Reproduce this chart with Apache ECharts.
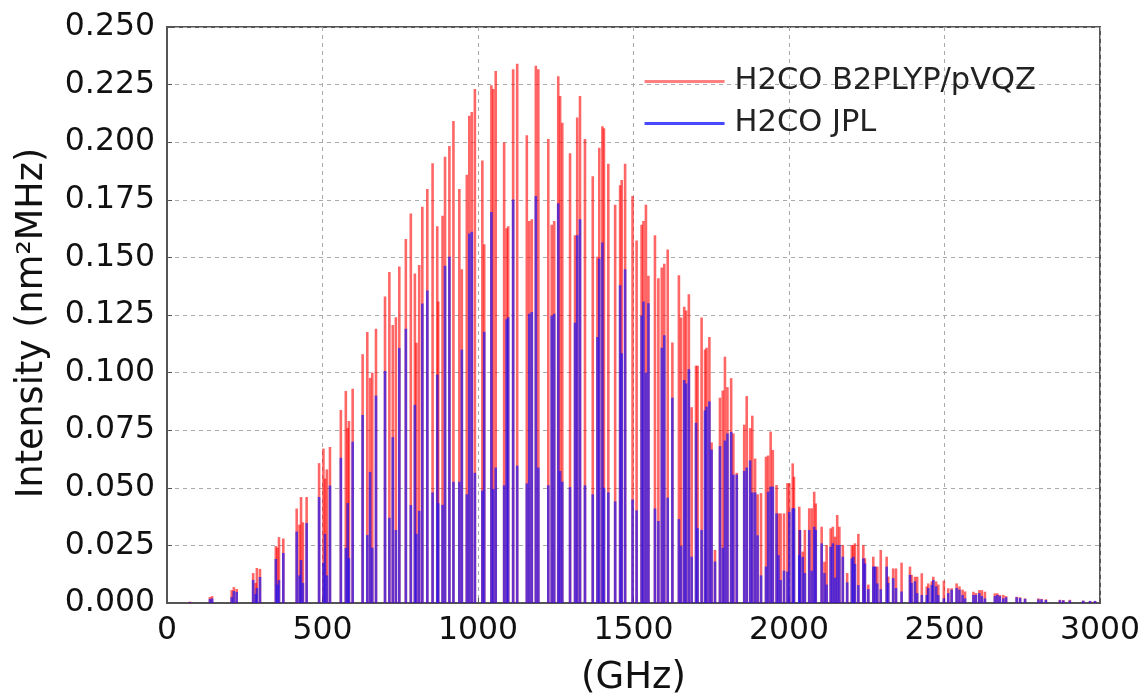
<!DOCTYPE html>
<html>
<head>
<meta charset="utf-8">
<title>H2CO spectrum</title>
<script src="https://cdn.jsdelivr.net/npm/echarts@6/dist/echarts.min.js"></script>
<style>
  html, body { margin: 0; padding: 0; background: #fff; }
  #main { width: 1144px; height: 697px; }
</style>
</head>
<body>
<div id="main"></div>
<script>
// line positions (GHz) and intensities (nm^2 MHz)
var freqs = [
  74, 138, 145, 208, 215, 224, 277, 285, 289, 299,
  350, 355, 360, 374, 417, 426, 431, 437, 449, 489,
  503, 508, 514, 524, 559, 575, 581, 585, 597, 629,
  644, 653, 660, 672, 701, 715, 726, 736, 747, 768,
  784, 797, 802, 811, 821, 837, 854, 869, 872, 886,
  894, 908, 921, 940, 948, 964, 972, 980, 990, 1014,
  1020, 1043, 1049, 1057, 1084, 1092, 1097, 1113, 1126, 1157,
  1165, 1173, 1186, 1194, 1226, 1237, 1245, 1258, 1264, 1271,
  1296, 1312, 1319, 1328, 1344, 1369, 1384, 1390, 1400, 1405,
  1419, 1441, 1457, 1462, 1473, 1497, 1510, 1526, 1532, 1540,
  1548, 1569, 1580, 1591, 1599, 1610, 1625, 1646, 1653, 1663,
  1669, 1678, 1687, 1701, 1706, 1719, 1730, 1735, 1744, 1751,
  1762, 1778, 1787, 1794, 1802, 1814, 1821, 1832, 1856, 1864,
  1875, 1882, 1891, 1899, 1910, 1926, 1933, 1941, 1948, 1960,
  1966, 1973, 1984, 1995, 2001, 2012, 2016, 2033, 2035, 2044,
  2051, 2065, 2073, 2081, 2086, 2105, 2114, 2121, 2134, 2141,
  2148, 2155, 2162, 2173, 2187, 2202, 2207, 2212, 2223, 2239,
  2244, 2255, 2271, 2277, 2284, 2295, 2314, 2319, 2335, 2344,
  2362, 2389, 2394, 2405, 2412, 2427, 2443, 2448, 2459, 2464,
  2473, 2480, 2498, 2512, 2523, 2539, 2548, 2558, 2566, 2593,
  2601, 2612, 2620, 2630, 2662, 2670, 2678, 2689, 2698, 2732,
  2743, 2759, 2802, 2812, 2826, 2871, 2882, 2903, 2946, 2968,
  2984
];
var b2plyp = [
  0.0006, 0.0026, 0.0030, 0.0056, 0.0069, 0.0061, 0.0130, 0.0087, 0.0152, 0.0148,
  0.0247, 0.0240, 0.0286, 0.0280, 0.0410, 0.0340, 0.0460, 0.0350, 0.0460, 0.0607,
  0.0670, 0.0540, 0.0580, 0.0677, 0.0838, 0.0920, 0.0760, 0.0790, 0.0930, 0.1080,
  0.1176, 0.0977, 0.1000, 0.1190, 0.1330, 0.1437, 0.1207, 0.1240, 0.1460, 0.1580,
  0.1690, 0.1430, 0.1130, 0.1467, 0.1720, 0.1797, 0.1909, 0.1635, 0.1309, 0.1681,
  0.1937, 0.1983, 0.2092, 0.1797, 0.1449, 0.1859, 0.2115, 0.2131, 0.2231, 0.1921,
  0.1557, 0.2247, 0.2231, 0.2309, 0.1999, 0.1627, 0.1635, 0.2317, 0.2340, 0.2030,
  0.1658, 0.1666, 0.2332, 0.2317, 0.2014, 0.1642, 0.1658, 0.2286, 0.2200, 0.2084,
  0.1952, 0.1596, 0.2107, 0.2200, 0.2014, 0.1852, 0.1503, 0.1976, 0.2069, 0.2061,
  0.1906, 0.1728, 0.1813, 0.1836, 0.1906, 0.1766, 0.1573, 0.1642, 0.1658, 0.1728,
  0.1420, 0.1596, 0.1410, 0.1456, 0.1472, 0.1534, 0.1131, 0.1422, 0.1239, 0.1286,
  0.1270, 0.1340, 0.0850, 0.1030, 0.1030, 0.1239, 0.1100, 0.1108, 0.1154, 0.0697,
  0.0230, 0.0891, 0.0922, 0.1069, 0.0937, 0.0976, 0.0736, 0.0565, 0.0774, 0.0898,
  0.0759, 0.0813, 0.0627, 0.0472, 0.0477, 0.0635, 0.0640, 0.0744, 0.0664, 0.0512,
  0.0389, 0.0389, 0.0389, 0.0520, 0.0520, 0.0606, 0.0548, 0.0418, 0.0317, 0.0223,
  0.0317, 0.0411, 0.0411, 0.0483, 0.0432, 0.0331, 0.0179, 0.0252, 0.0324, 0.0331,
  0.0288, 0.0382, 0.0331, 0.0252, 0.0130, 0.0252, 0.0252, 0.0259, 0.0300, 0.0252,
  0.0194, 0.0080, 0.0201, 0.0158, 0.0158, 0.0230, 0.0201, 0.0115, 0.0150, 0.0150,
  0.0175, 0.0158, 0.0122, 0.0114, 0.0114, 0.0129, 0.0072, 0.0085, 0.0094, 0.0114,
  0.0094, 0.0080, 0.0097, 0.0064, 0.0064, 0.0085, 0.0072, 0.0058, 0.0050, 0.0049,
  0.0043, 0.0056, 0.0056, 0.0049, 0.0042, 0.0042, 0.0035, 0.0035, 0.0030, 0.0027,
  0.0025, 0.0020, 0.0020, 0.0018, 0.0016, 0.0014, 0.0013, 0.0014, 0.0010, 0.0009,
  0.0009
];
var jpl = [
  0.0004, 0.0017, 0.0020, 0.0026, 0.0052, 0.0048, 0.0100, 0.0039, 0.0065, 0.0113,
  0.0191, 0.0080, 0.0100, 0.0217, 0.0310, 0.0120, 0.0187, 0.0087, 0.0347, 0.0460,
  0.0174, 0.0300, 0.0120, 0.0510, 0.0630, 0.0239, 0.0434, 0.0195, 0.0700, 0.0816,
  0.0295, 0.0569, 0.0240, 0.0900, 0.1007, 0.0370, 0.0720, 0.0317, 0.1107, 0.1190,
  0.0425, 0.0860, 0.0300, 0.0400, 0.1300, 0.1356, 0.0480, 0.0991, 0.0433, 0.0426,
  0.1464, 0.1503, 0.0526, 0.0526, 0.1100, 0.0472, 0.1604, 0.1611, 0.0565, 0.0488,
  0.1177, 0.1697, 0.0495, 0.0588, 0.0511, 0.1232, 0.1240, 0.1751, 0.0596, 0.0519,
  0.1255, 0.1263, 0.1766, 0.0588, 0.0511, 0.1247, 0.1255, 0.1735, 0.0573, 0.0526,
  0.0503, 0.1216, 0.1596, 0.1666, 0.0511, 0.0472, 0.1154, 0.1495, 0.1565, 0.0500,
  0.0480, 0.0441, 0.1379, 0.1084, 0.1449, 0.0449, 0.0402, 0.1247, 0.1309, 0.1000,
  0.1301, 0.0410, 0.0356, 0.1108, 0.1162, 0.0457, 0.0891, 0.0364, 0.0247, 0.0968,
  0.0953, 0.1015, 0.0201, 0.0782, 0.0325, 0.0317, 0.0836, 0.0852, 0.0875, 0.0666,
  0.0180, 0.0681, 0.0240, 0.0705, 0.0736, 0.0743, 0.0557, 0.0557, 0.0573, 0.0588,
  0.0619, 0.0480, 0.0480, 0.0294, 0.0120, 0.0158, 0.0483, 0.0505, 0.0505, 0.0389,
  0.0208, 0.0100, 0.0140, 0.0136, 0.0396, 0.0411, 0.0411, 0.0208, 0.0317, 0.0200,
  0.0130, 0.0317, 0.0140, 0.0331, 0.0317, 0.0259, 0.0130, 0.0080, 0.0244, 0.0259,
  0.0110, 0.0252, 0.0252, 0.0201, 0.0090, 0.0194, 0.0201, 0.0170, 0.0078, 0.0194,
  0.0172, 0.0060, 0.0158, 0.0158, 0.0085, 0.0060, 0.0158, 0.0087, 0.0108, 0.0065,
  0.0050, 0.0122, 0.0087, 0.0094, 0.0043, 0.0035, 0.0035, 0.0065, 0.0078, 0.0100,
  0.0072, 0.0035, 0.0020, 0.0043, 0.0058, 0.0065, 0.0058, 0.0035, 0.0020, 0.0035,
  0.0035, 0.0043, 0.0030, 0.0020, 0.0030, 0.0035, 0.0030, 0.0020, 0.0025, 0.0025,
  0.0022, 0.0018, 0.0016, 0.0016, 0.0013, 0.0012, 0.0011, 0.0011, 0.0010, 0.0009,
  0.0009
];
var xTicks = ['0', '500', '1000', '1500', '2000', '2500', '3000'];
var yTicks = ['0.000', '0.025', '0.050', '0.075', '0.100', '0.125', '0.150', '0.175', '0.200', '0.225', '0.250'];

var chart = echarts.init(document.getElementById('main'));

function stick(color) {
    return function (params, api) {
        var x = api.value(0);
        var p0 = api.coord([x, 0]);
        var p1 = api.coord([x, api.value(1)]);
        return {
            type: 'line',
            shape: { x1: p0[0], y1: p0[1], x2: p1[0], y2: p1[1] },
            style: { stroke: color, lineWidth: 2.6 }
        };
    };
}

var font = 'DejaVu Sans';

var option = {
    animation: false,
    grid: {
        left: 167, right: 44, top: 27, bottom: 94,
        outerBoundsMode: 'none',
        show: true, borderColor: '#555', borderWidth: 2, backgroundColor: '#fff'
    },
    legend: {
        right: 103, top: 61, orient: 'vertical',
        itemWidth: 80, itemHeight: 3, itemGap: 11,
        icon: 'rect',
        textStyle: { fontFamily: font, fontSize: 30.5, color: '#222', padding: [0, 0, 0, 5] },
        data: ['H2CO B2PLYP/pVQZ', 'H2CO JPL']
    },
    xAxis: {
        type: 'value', min: 0, max: 3000, interval: 500,
        name: '(GHz)', nameLocation: 'middle', nameGap: 57,
        nameTextStyle: { fontFamily: font, fontSize: 37, color: '#111' },
        axisLine: { show: true, lineStyle: { color: '#555', width: 2 } },
        axisTick: { show: true, inside: true, length: 5, lineStyle: { color: '#555' } },
        axisLabel: {
            fontFamily: font, fontSize: 31.5, color: '#111', margin: 12,
            formatter: function (v) { return xTicks[Math.round(v / 500)]; }
        },
        splitLine: { show: true, lineStyle: { color: '#aaa', type: [4, 4], width: 1 } }
    },
    yAxis: {
        type: 'value', min: 0, max: 0.25, interval: 0.025,
        name: 'Intensity (nm²MHz)', nameLocation: 'middle', nameGap: 116,
        nameTextStyle: { fontFamily: font, fontSize: 36.5, color: '#111', padding: [0, 16, 0, 0] },
        axisLine: { show: true, lineStyle: { color: '#555', width: 2 } },
        axisTick: { show: true, inside: true, length: 5, lineStyle: { color: '#555' } },
        axisLabel: {
            fontFamily: font, fontSize: 31.5, color: '#111', margin: 12,
            formatter: function (v) { return yTicks[Math.round(v / 0.025)]; }
        },
        splitLine: { show: true, lineStyle: { color: '#aaa', type: [4, 4], width: 1 } }
    },
    series: [
        {
            name: 'H2CO B2PLYP/pVQZ', type: 'custom',
            itemStyle: { color: 'rgba(255,60,60,0.65)' },
            renderItem: stick('rgba(255,0,0,0.6)'),
            data: freqs.map(function (f, i) { return [f, b2plyp[i]]; }),
            z: 2
        },
        {
            name: 'H2CO JPL', type: 'custom',
            itemStyle: { color: 'rgba(40,40,255,0.85)' },
            renderItem: stick('rgba(20,20,255,0.66)'),
            data: freqs.map(function (f, i) { return [f, jpl[i]]; }),
            z: 3
        }
    ]
};

chart.setOption(option);
</script>
</body>
</html>
